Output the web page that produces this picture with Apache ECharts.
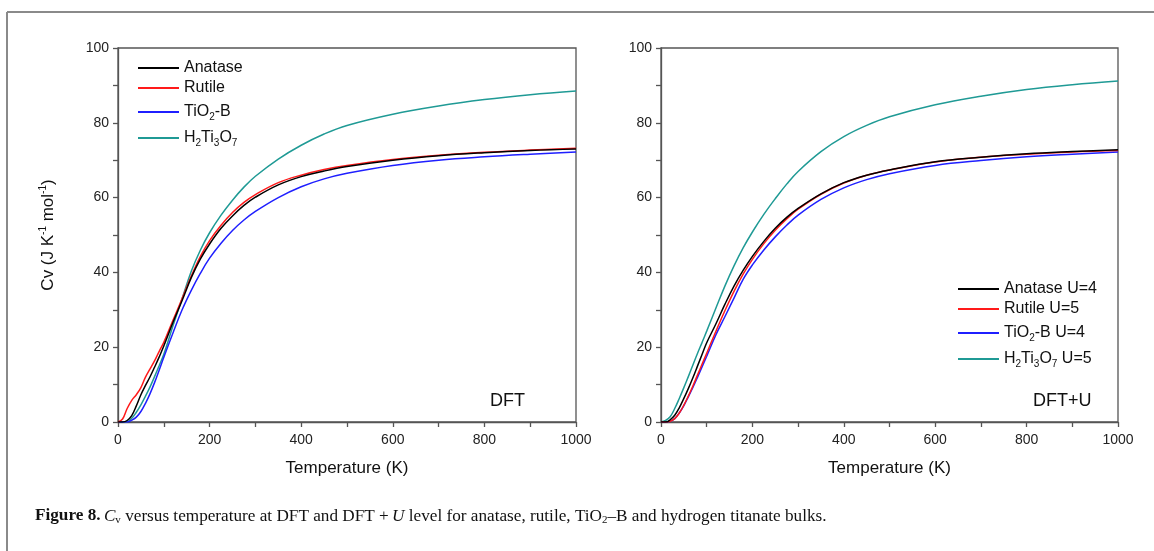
<!DOCTYPE html>
<html>
<head>
<meta charset="utf-8">
<script src="https://cdn.jsdelivr.net/npm/echarts@6/dist/echarts.min.js"></script>
<style>html,body{margin:0;padding:0;background:#fff;}#c{width:1154px;height:551px;}</style>
</head>
<body>
<div id="c"></div>
<script>
// Temperature grid (K)
var temps = [0,10,20,30,40,50,60,70,80,90,100,120,140,160,180,200,225,250,275,300,350,400,450,500,600,700,800,900,1000];

// DFT panel
var dftAnatase = [0,0,0.4,1.7,4.3,7.3,9.8,12.1,14.7,17.4,20.3,26.6,32.5,38.6,43.6,47.6,51.8,55.1,57.9,60.1,63.4,65.6,67.1,68.3,70,71.2,72,72.6,73.0];
var dftRutile  = [0,0.8,3.6,5.8,7.3,9.2,12,14.2,16.4,18.9,21.3,27.2,33,39,44.3,48.5,52.6,56,58.7,60.8,64,66,67.5,68.6,70.2,71.3,72.1,72.7,73.2];
var dftTiO2B   = [0,0,0,0.5,1.3,2.8,5,7.6,10.6,13.9,17.3,23.8,30,35.2,39.8,43.8,47.8,51.2,54,56.3,60,62.9,65,66.5,68.6,70,70.9,71.6,72.2];
var dftH2Ti3O7 = [0,0,0.1,1,2.6,4.6,6.9,9.4,12.2,15.1,18.1,25.7,33,40.3,46,50.6,55.3,59.3,62.8,65.7,70.3,74,77,79.3,82.3,84.5,86.2,87.5,88.5];

// DFT+U panel
var uAnatase  = [0,0,0.6,1.8,3.8,6.3,9,11.9,15,18.1,21.2,26.2,31.5,36.4,40.6,44.3,48.3,51.8,54.7,57.1,61,64,66,67.4,69.6,70.8,71.7,72.3,72.8];
var uRutile   = [0,0,0.2,0.9,2.4,4.5,7,9.7,12.6,15.5,18.4,24.2,29.8,35,39.6,43.5,47.7,51.3,54.3,56.9,60.9,63.9,66,67.4,69.5,70.8,71.6,72.2,72.6];
var uTiO2B    = [0,0,0.2,0.9,2.4,4.4,6.8,9.3,12,14.8,17.6,23.3,28.2,33.2,38.2,42,46,49.5,52.6,55.3,59.5,62.6,64.8,66.4,68.6,69.9,70.9,71.6,72.2];
var uH2Ti3O7  = [0,0.4,1.4,3.6,6.3,9.2,12.2,15.3,18.4,21.3,24.3,30.4,36.4,41.8,46.6,50.8,55.5,59.7,63.6,67,72.3,76.3,79.3,81.6,84.8,87.1,88.9,90.2,91.2];

var namesL = ['Anatase','Rutile','TiO2-B','H2Ti3O7'];
var namesR = ['Anatase U=4','Rutile U=5','TiO2-B U=4','H2Ti3O7 U=5'];
var colors = ['#000000','#ff1a1a','#1f1fff','#1f9a95'];

var richMap = {
  'Anatase':'{n|Anatase}',
  'Rutile':'{n|Rutile}',
  'TiO2-B':'{n|TiO}{s|2}{n|-B}',
  'H2Ti3O7':'{n|H}{s|2}{n|Ti}{s|3}{n|O}{s|7}',
  'Anatase U=4':'{n|Anatase U=4}',
  'Rutile U=5':'{n|Rutile U=5}',
  'TiO2-B U=4':'{n|TiO}{s|2}{n|-B U=4}',
  'H2Ti3O7 U=5':'{n|H}{s|2}{n|Ti}{s|3}{n|O}{s|7}{n| U=5}'
};
var rich = {
  n: {fontSize:16, fontFamily:'Liberation Sans', color:'#111', lineHeight:20, verticalAlign:'middle'},
  s: {fontSize:10, fontFamily:'Liberation Sans', color:'#111', lineHeight:10, verticalAlign:'bottom', padding:[12,0,0,0]}
};

function pairs(arr){ return temps.map(function(t,i){ return [t, arr[i]]; }); }

var axisColor = '#555';
function xAx(idx){
  return {
    type:'value', gridIndex:idx, min:0, max:1000, interval:200,
    name:'Temperature (K)', nameLocation:'middle', nameGap:38,
    nameTextStyle:{fontSize:17, fontFamily:'Liberation Sans', color:'#111'},
    axisLine:{show:true, lineStyle:{color:axisColor, width:1.3}},
    axisTick:{show:true, inside:false, length:5, lineStyle:{color:axisColor, width:1.3}},
    minorTick:{show:true, splitNumber:2, length:5, lineStyle:{color:axisColor, width:1.3}},
    axisLabel:{fontSize:14, fontFamily:'Liberation Sans', color:'#222', margin:11, formatter:function(v){return String(v);}},
    splitLine:{show:false}
  };
}
function yAx(idx, withName){
  var a = {
    type:'value', gridIndex:idx, min:0, max:100, interval:20,
    axisLine:{show:true, lineStyle:{color:axisColor, width:1.3}},
    axisTick:{show:true, inside:false, length:5, lineStyle:{color:axisColor, width:1.3}},
    minorTick:{show:true, splitNumber:2, length:5, lineStyle:{color:axisColor, width:1.3}},
    axisLabel:{fontSize:14, fontFamily:'Liberation Sans', color:'#222', margin:9},
    splitLine:{show:false}
  };
  if (withName) {
    a.name = '{a|Cv (J K}{p|-1}{a| mol}{p|-1}{a|)}';
    a.nameLocation = 'middle';
    a.nameGap = 60;
    a.nameTextStyle = {
      rich:{
        a:{fontSize:17, fontFamily:'Liberation Sans', color:'#111', lineHeight:20, verticalAlign:'middle'},
        p:{fontSize:10, fontFamily:'Liberation Sans', color:'#111', lineHeight:10, verticalAlign:'top'}
      }
    };
  }
  return a;
}

var series = [];
var dataL = [dftAnatase, dftRutile, dftTiO2B, dftH2Ti3O7];
var dataR = [uAnatase, uRutile, uTiO2B, uH2Ti3O7];
for (var i=0;i<4;i++){
  series.push({type:'line', name:namesL[i], xAxisIndex:0, yAxisIndex:0, data:pairs(dataL[i]),
    symbol:'none', smooth:0.4, lineStyle:{color:colors[i], width:1.5}, itemStyle:{color:colors[i]}, z:10-i});
}
for (var j=0;j<4;j++){
  series.push({type:'line', name:namesR[j], xAxisIndex:1, yAxisIndex:1, data:pairs(dataR[j]),
    symbol:'none', smooth:0.4, lineStyle:{color:colors[j], width:1.5}, itemStyle:{color:colors[j]}, z:10-j});
}

function legendFmt(name){ return richMap[name] || name; }

var option = {
  animation:false,
  backgroundColor:'#fff',
  grid:[
    {left:118, right:1154-576, top:48, bottom:551-422, show:true, borderColor:axisColor, borderWidth:1.3, backgroundColor:'transparent'},
    {left:661, right:1154-1118, top:48, bottom:551-422, show:true, borderColor:axisColor, borderWidth:1.3, backgroundColor:'transparent'}
  ],
  xAxis:[xAx(0), xAx(1)],
  yAxis:[yAx(0,true), yAx(1,false)],
  legend:[
    {data:namesL, orient:'vertical', left:133, top:55, icon:'rect', itemWidth:41, itemHeight:2, itemGap:4,
     formatter:legendFmt, textStyle:{rich:rich}, selectedMode:false},
    {data:namesR, orient:'vertical', left:953, top:276, icon:'rect', itemWidth:41, itemHeight:2, itemGap:4,
     formatter:legendFmt, textStyle:{rich:rich}, selectedMode:false}
  ],
  series:series,
  graphic:[
    {type:'line', shape:{x1:7, y1:12, x2:1154, y2:12}, style:{stroke:'#8a8a8a', lineWidth:2}},
    {type:'line', shape:{x1:7, y1:12, x2:7, y2:551}, style:{stroke:'#8a8a8a', lineWidth:2}},
    {type:'text', left:490, top:392, style:{text:'DFT', fontSize:18, fontFamily:'Liberation Sans', fill:'#111'}},
    {type:'text', left:1033, top:392, style:{text:'DFT+U', fontSize:18, fontFamily:'Liberation Sans', fill:'#111'}},
    {type:'text', left:35, top:505, style:{
      text:'{b|Figure 8.} {i|C}{sub|v}{r| versus temperature at DFT and DFT }{r|+} {i|U}{r| level for anatase, rutile, TiO}{sub|2}{r|\u2013B and hydrogen titanate bulks.}',
      rich:{
        b:{fontSize:17.2, fontFamily:'Liberation Serif', fontWeight:'bold', fill:'#111', lineHeight:20, verticalAlign:'middle'},
        r:{fontSize:17.2, fontFamily:'Liberation Serif', fill:'#111', lineHeight:20, verticalAlign:'middle'},
        i:{fontSize:17.2, fontFamily:'Liberation Serif', fontStyle:'italic', fill:'#111', lineHeight:20, verticalAlign:'middle'},
        sub:{fontSize:11, fontFamily:'Liberation Serif', fill:'#111', lineHeight:11, verticalAlign:'bottom', padding:[10,0,0,0]}
      }
    }}
  ]
};

var chart = echarts.init(document.getElementById('c'), null, {renderer:'canvas'});
chart.setOption(option);
</script>
</body>
</html>
